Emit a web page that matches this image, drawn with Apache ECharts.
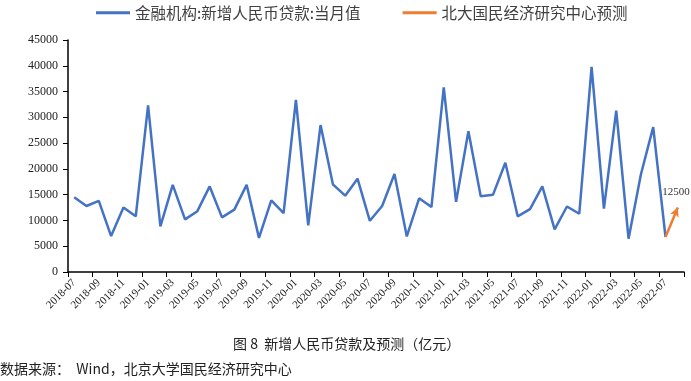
<!DOCTYPE html>
<html><head><meta charset="utf-8">
<script src="https://cdn.jsdelivr.net/npm/echarts@6/dist/echarts.min.js"></script>
<style>html,body{margin:0;padding:0;background:#fff}#c{width:691px;height:381px}</style>
</head><body><div id="c"></div>
<script>
const categories = ["2018-07","2018-08","2018-09","2018-10","2018-11","2018-12",
"2019-01","2019-02","2019-03","2019-04","2019-05","2019-06","2019-07","2019-08","2019-09","2019-10","2019-11","2019-12",
"2020-01","2020-02","2020-03","2020-04","2020-05","2020-06","2020-07","2020-08","2020-09","2020-10","2020-11","2020-12",
"2021-01","2021-02","2021-03","2021-04","2021-05","2021-06","2021-07","2021-08","2021-09","2021-10","2021-11","2021-12",
"2022-01","2022-02","2022-03","2022-04","2022-05","2022-06","2022-07","2022-08"];
const actualLoans = [14500,12800,13800,6970,12500,10800,
32300,8858,16900,10200,11800,16600,10600,12100,16900,6613,13900,11400,
33400,9057,28500,17000,14800,18100,9927,12800,19000,6898,14300,12600,
35800,13600,27300,14700,15000,21200,10800,12200,16600,8262,12700,11300,
39800,12300,31300,6454,18900,28100,6790,null];
const forecastLoans = [null,null,null,null,null,null,null,null,null,null,null,null,null,null,null,null,null,null,
null,null,null,null,null,null,null,null,null,null,null,null,null,null,null,null,null,null,null,null,null,null,null,null,
null,null,null,null,null,null,6790,12500];
const yTicks = {min:0,max:45000,interval:5000};
const seriesNames = ["金融机构:新增人民币贷款:当月值","北大国民经济研究中心预测"];
const caption = "图 8  新增人民币贷款及预测（亿元）";
const source = "数据来源：  Wind，北京大学国民经济研究中心";

const serif = "'Liberation Serif','Times New Roman',serif";
const cjk = "'Noto Sans CJK SC','Liberation Serif',serif";
const last = forecastLoans.length-1;
const fData = forecastLoans.map((v,i)=> i===last ? {value:v, symbol:'arrow', symbolSize:[7,9], symbolRotate:-23,
  label:{show:true, position:'top', distance:8, formatter:'{c}', fontFamily:serif, fontSize:11, color:'#333'}} : v);

const chart = echarts.init(document.getElementById('c'));
chart.setOption({
  animation:false,
  legend:{
    left:96, top:5, padding:0, itemWidth:34, itemHeight:3, itemGap:42, icon:'rect',
    textStyle:{fontFamily:cjk, fontSize:15.5, color:'#404040'},
    data:seriesNames
  },
  grid:{left:68, right:7, top:40, bottom:109},
  xAxis:{
    type:'category', data:categories, boundaryGap:true,
    axisLine:{lineStyle:{color:'#000', width:1.5}},
    axisTick:{show:true, interval:1, length:5, lineStyle:{color:'#000'}},
    axisLabel:{interval:1, rotate:45, fontFamily:serif, fontSize:11, color:'#222', margin:9}
  },
  yAxis:{
    type:'value', min:yTicks.min, max:yTicks.max, interval:yTicks.interval,
    axisLine:{show:true, lineStyle:{color:'#000', width:1.5}},
    axisTick:{show:true, length:5, lineStyle:{color:'#000'}},
    splitLine:{show:false},
    axisLabel:{fontFamily:serif, fontSize:12, color:'#222', margin:10, formatter:(v)=>String(v)}
  },
  series:[
    {name:seriesNames[0], type:'line', data:actualLoans, showSymbol:false, symbol:'none',
     lineStyle:{color:'#4472C4', width:2.5}, itemStyle:{color:'#4472C4'}},
    {name:seriesNames[1], type:'line', data:fData, symbol:'none', showSymbol:true,
     lineStyle:{color:'#ED7D31', width:2.5}, itemStyle:{color:'#ED7D31'}}
  ],
  graphic:[
    {type:'text', left:233, top:337, style:{text:caption, font:"14px "+cjk, fill:'#222'}},
    {type:'text', left:0, top:362, style:{text:source, font:"14px "+cjk, fill:'#222'}}
  ]
});
</script></body></html>
